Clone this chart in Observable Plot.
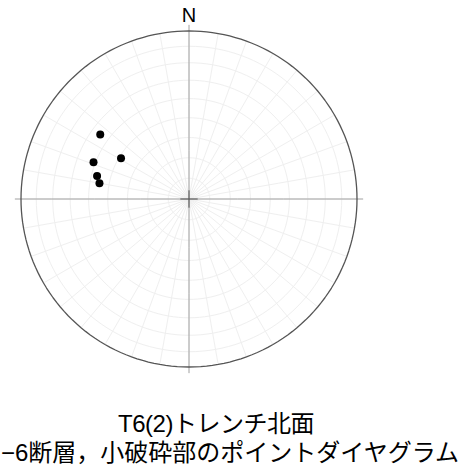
<!DOCTYPE html>
<html>
<head>
<meta charset="utf-8">
<script src="https://cdn.jsdelivr.net/npm/d3@7"></script>
<script src="https://cdn.jsdelivr.net/npm/@observablehq/plot@0.6"></script>
<style>
  html, body { margin: 0; padding: 0; background: #fff; }
  svg { display: block; }
  #cap { font-family: "Liberation Sans", "Noto Sans CJK JP", sans-serif; font-size: 24px; line-height: 29px; color: #000; margin-top: 9px; }
  #l1 { width: 432px; text-align: center; white-space: nowrap; letter-spacing: -0.5px; }
  #l2 { white-space: nowrap; padding-left: 1px; }
</style>
</head>
<body>
<div id="chart"></div>
<div id="cap">
  <div id="l1">T6(2)トレンチ北面</div>
  <div id="l2">−6断層，小破砕部のポイントダイヤグラム</div>
</div>
<script>
// Poles (lower hemisphere, equal-area): trend (deg, clockwise from N) and plunge (deg)
const trend  = [306, 301, 291, 284, 280];
const plunge = [35, 51, 39, 43, 45];
const northLabel = "N";

const points = trend.map((t, i) => ({trend: t, lat: -plunge[i]}));

// Net geometry (longitude = trend, latitude = -plunge; nadir at the centre)
const graticule = d3.geoGraticule().extent([[-180, -90 + 1e-6], [180, 0]]).step([10, 10])();
const primitive = d3.geoCircle().center([0, -90]).radius(90)();
const rimPoints = {type: "MultiPoint", coordinates: [[0, 0], [90, 0], [180, 0], [270, 0]]};
const axisNS = [{lon: 0, lat: 4}, {lon: 0, lat: -90}, {lon: 180, lat: 4}];
const axisEW = [{lon: 90, lat: 4}, {lon: 90, lat: -90}, {lon: 270, lat: 4}];
const crossNS = [{lon: 0, lat: -86}, {lon: 0, lat: -90}, {lon: 180, lat: -86}];
const crossEW = [{lon: 90, lat: -86}, {lon: 90, lat: -90}, {lon: 270, lat: -86}];

const chart = Plot.plot({
  width: 470,
  height: 400,
  marginLeft: 20.5,
  marginRight: 113.5,
  marginTop: 30.5,
  marginBottom: 33.5,
  projection: {
    type: () => d3.geoAzimuthalEqualArea().rotate([0, 90]).clipAngle(110),
    domain: rimPoints,
    clip: false
  },
  marks: [
    Plot.geo(graticule, {stroke: "#efefef", strokeWidth: 1, fill: "none"}),
    Plot.line(axisNS, {x: "lon", y: "lat", stroke: "#a0a0a0", strokeWidth: 1}),
    Plot.line(axisEW, {x: "lon", y: "lat", stroke: "#a0a0a0", strokeWidth: 1}),
    Plot.line(crossNS, {x: "lon", y: "lat", stroke: "#555", strokeWidth: 1}),
    Plot.line(crossEW, {x: "lon", y: "lat", stroke: "#555", strokeWidth: 1}),
    Plot.geo(primitive, {stroke: "#555", strokeWidth: 1.3, fill: "none"}),
    Plot.dot(points, {x: "trend", y: "lat", r: 4, fill: "#000", stroke: "none"}),
    Plot.text([northLabel], {frameAnchor: "top", lineAnchor: "middle", dy: -15, fontSize: 20, fill: "#000",
      fontFamily: "Liberation Sans, Arial, sans-serif"})
  ]
});
document.getElementById("chart").appendChild(chart);
</script>
</body>
</html>
